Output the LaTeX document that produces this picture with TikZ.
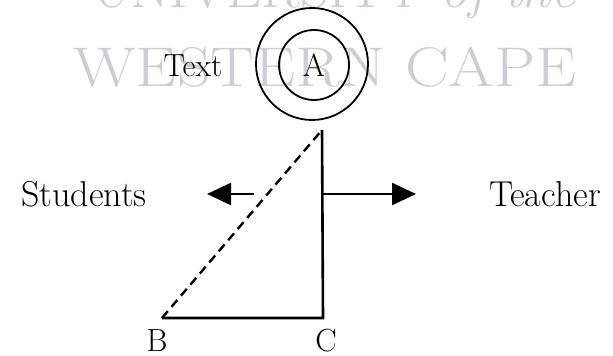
\documentclass[tikz,border=0pt]{standalone}
\usetikzlibrary{arrows.meta}
\definecolor{cMarca}{HTML}{CDCDD6}

\begin{document}
\begin{tikzpicture}[
    x=0.5pt, y=-0.5pt,
    ring/.style={draw, circle, line width=0.9pt, inner sep=0pt},
    edge/.style={line width=1.3pt},
    hint/.style={line width=1.2pt, dash pattern=on 4.5pt off 2.8pt},
    push/.style={-{Triangle[length=12pt, width=11pt]}, line width=1.2pt},
    lbl/.style={font=\fontsize{18}{20}\selectfont, inner sep=0pt},
    tag/.style={font=\fontsize{16}{18}\selectfont, inner sep=0pt},
    marca/.style={font=\fontsize{28}{30}\selectfont, text=cMarca,
                  inner sep=0pt, anchor=base},
]
\useasboundingbox (0,0) rectangle (613,356);

% ===================== Marca de agua =====================
\begin{scope}
\clip (0,0) rectangle (613,356);
\node[marca] (marcaA) at (334,8) {UNIVERSITY {\itshape of the}};
\node[marca] (marcaB) at (325,87) {\scalebox{1.17}[1]{WESTERN CAPE}};
\end{scope}

% ===================== Texto =====================
\node[ring, minimum size=56pt] (outer) at (312,64) {};
\node[ring, minimum size=35pt, font=\fontsize{16}{18}\selectfont] (inner) at (314,65) {A};
\node[tag] (text) at (193,66) {Text};

% ===================== Triangulo =====================
\coordinate (top) at (322,130);
\coordinate (b) at (162,318);
\coordinate (c) at (323,318);
\draw[edge] (top) -- (c) -- (b);
\draw[hint] (b) -- (top);
\node[tag] (labB) at (157,341) {B};
\node[tag] (labC) at (326,341) {C};

% ===================== Flechas =====================
\coordinate (mid) at (323,194);
\coordinate (tipT) at (416,194);
\coordinate (tailS) at (254,194);
\coordinate (tipS) at (207,194);
\draw[push] (mid) -- (tipT);
\draw[push] (tailS) -- (tipS);
\node[lbl] (students) at (84,194) {Students};
\node[lbl] (teacher) at (545,194) {Teacher};

\end{tikzpicture}
\end{document}
